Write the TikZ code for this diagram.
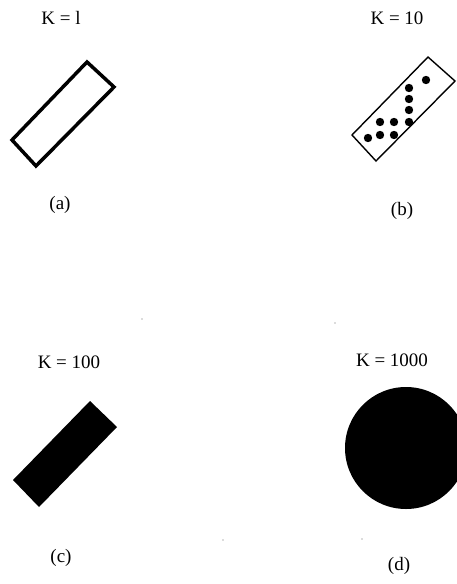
\documentclass[tikz,border=0pt]{standalone}
\usepackage{fontspec}
\setmainfont{Liberation Serif}
\begin{document}
\begin{tikzpicture}[x=1pt,y=-1pt,
  lbl/.style={font=\fontsize{19}{21}\selectfont, inner sep=0pt, anchor=center},
  dotmark/.style={fill=black},
  speck/.style={fill=black!60}]
\useasboundingbox (0,0) rectangle (457,584);
\clip (0,0) rectangle (457,584);
% (a)
\node[lbl] (ka) at (61,18) {K = l};
\draw[line width=3.5pt, line join=miter] (87,62) -- (114,87) -- (36,166) -- (12,140) -- cycle;
\node[lbl] (la) at (60,205) {(a)};
% (b)
\node[lbl] (kb) at (397,18) {K = 10};
\draw[line width=1.4pt] (428,57) -- (455,81) -- (376,161) -- (352,135) -- cycle;
\foreach \p in {(426,80),(409,88),(409,99),(409,110),(409,122),(394,122),(380,122),(394,135),(380,135),(368,138)}
  \fill[dotmark] \p circle (4.2);
\node[lbl] (lb) at (402,211) {(b)};
% (c)
\node[lbl] (kc) at (69,362) {K = 100};
\fill (90,401) -- (117,427) -- (39,507) -- (13,480) -- cycle;
\node[lbl] (lc) at (61,558) {(c)};
% (d)
\node[lbl] (kd) at (392,360) {K = 1000};
\fill (406,448) circle (61);
\node[lbl] (ld) at (399,566) {(d)};
% specks
\fill[speck] (142,319) circle (0.7);
\fill[speck] (335,323) circle (0.7);
\fill[speck] (223,540) circle (0.6);
\fill[speck] (362,539) circle (0.6);
\end{tikzpicture}
\end{document}
